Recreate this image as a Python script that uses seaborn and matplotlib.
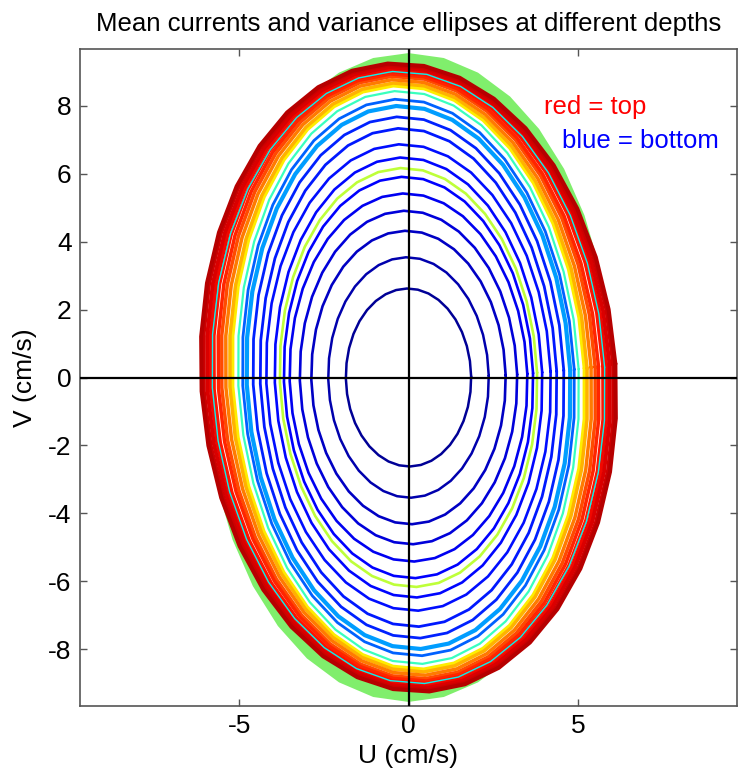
import numpy as np
import pandas as pd
import matplotlib
matplotlib.use('Agg')
import matplotlib.pyplot as plt
import seaborn as sns

# variance ellipse per depth: depth (m), semi-axis along V and along U (cm/s), tilt (deg)
depth_m = [294, 288, 282, 276, 270, 264, 126, 261, 258, 255, 252, 216, 234, 174,
           102, 84, 66, 51, 39, 33, 30, 24, 21, 15, 192]
v_semi = [2.62, 3.54, 4.32, 4.91, 5.42, 5.91, 6.17, 6.48, 6.87, 7.34, 7.68, 8.00, 8.20, 8.44,
          8.60, 8.68, 8.78, 8.88, 8.95, 9.02, 9.10, 9.15, 9.22, 9.26, 9.02]
u_semi = [1.85, 2.37, 2.87, 3.21, 3.51, 3.68, 3.80, 3.95, 4.20, 4.38, 4.59, 4.78, 4.90, 5.03,
          5.20, 5.28, 5.40, 5.52, 5.62, 5.75, 5.85, 5.95, 6.06, 6.12, 5.80]
tilt_deg = [1.0, 1.2, 1.4, 1.6, 1.8, 2.0, 2.2, 2.2, 2.4, 2.4, 2.6, 2.6, 2.8, 2.8,
            3.0, 3.0, 3.2, 3.2, 3.4, 3.4, 3.6, 3.6, 3.8, 3.8, 3.0]
line_w = [1.8, 1.8, 1.9, 1.9, 1.9, 1.9, 1.9, 1.9, 1.9, 2.0, 2.0, 3.0, 2.0, 1.6,
          2.5, 2.5, 2.5, 2.5, 2.5, 2.5, 2.8, 2.8, 3.0, 3.0, 1.0]

# outer envelope shaded in green
env_v = 9.55
env_u = 6.0

sns.set_style("ticks")
plt.rcParams['font.family'] = ['Liberation Sans', 'DejaVu Sans']
plt.rcParams['axes.unicode_minus'] = False
plt.rcParams['text.color'] = 'black'
plt.rcParams['axes.labelcolor'] = 'black'
plt.rcParams['xtick.labelcolor'] = 'black'
plt.rcParams['ytick.labelcolor'] = 'black'


def ellipse_df(a_u, b_v, tilt):
    t = np.linspace(0, 2 * np.pi, 37)
    th = np.deg2rad(tilt)
    x = a_u * np.cos(t)
    y = b_v * np.sin(t)
    return pd.DataFrame({'U': x * np.cos(th) - y * np.sin(th),
                         'V': x * np.sin(th) + y * np.cos(th)})


fig = plt.figure(figsize=(7.38, 7.78), dpi=100)
ax = fig.add_axes([80 / 738, 1 - 706 / 778, 657 / 738, 657 / 778])

env = ellipse_df(env_u, env_v, 0)
ax.fill(env['U'], env['V'], color='#80ee6c', lw=0, zorder=1)
# interior of the largest ellipse stays white
inner = ellipse_df(u_semi[23], v_semi[23], tilt_deg[23])
ax.fill(inner['U'], inner['V'], color='white', lw=0, zorder=1.5)

cmap = plt.get_cmap('jet_r')
for d, b, a, tl, lw in zip(depth_m, v_semi, u_semi, tilt_deg, line_w):
    df = ellipse_df(a, b, tl)
    sns.lineplot(data=df, x='U', y='V', sort=False, estimator=None,
                 color=cmap(d / 300.0), lw=lw, ax=ax, zorder=2)

ax.axhline(0, color='black', lw=1.6, zorder=5)
ax.axvline(0, color='black', lw=1.6, zorder=5)

ax.set_xlim(-9.7, 9.7)
ax.set_ylim(-9.67, 9.67)
ax.set_xticks([-5, 0, 5])
ax.set_yticks(range(-8, 9, 2))
ax.tick_params(direction='in', length=5, width=1, top=True, right=True,
               labelsize=19, color='#555555', pad=6)
for s in ax.spines.values():
    s.set_visible(True)
    s.set_color('#555555')
    s.set_linewidth(1.2)

ax.set_xlabel('U (cm/s)', fontsize=19, labelpad=4)
ax.set_ylabel('V (cm/s)', fontsize=19, labelpad=8)
ax.set_title('Mean currents and variance ellipses at different depths',
             fontsize=18.5, pad=13)

ax.text(4.0, 7.95, 'red = top', color='red', fontsize=18.5, va='center', ha='left')
ax.text(4.54, 6.97, 'blue = bottom', color='blue', fontsize=18.5, va='center', ha='left')

fig.savefig('out.png', dpi=100)
